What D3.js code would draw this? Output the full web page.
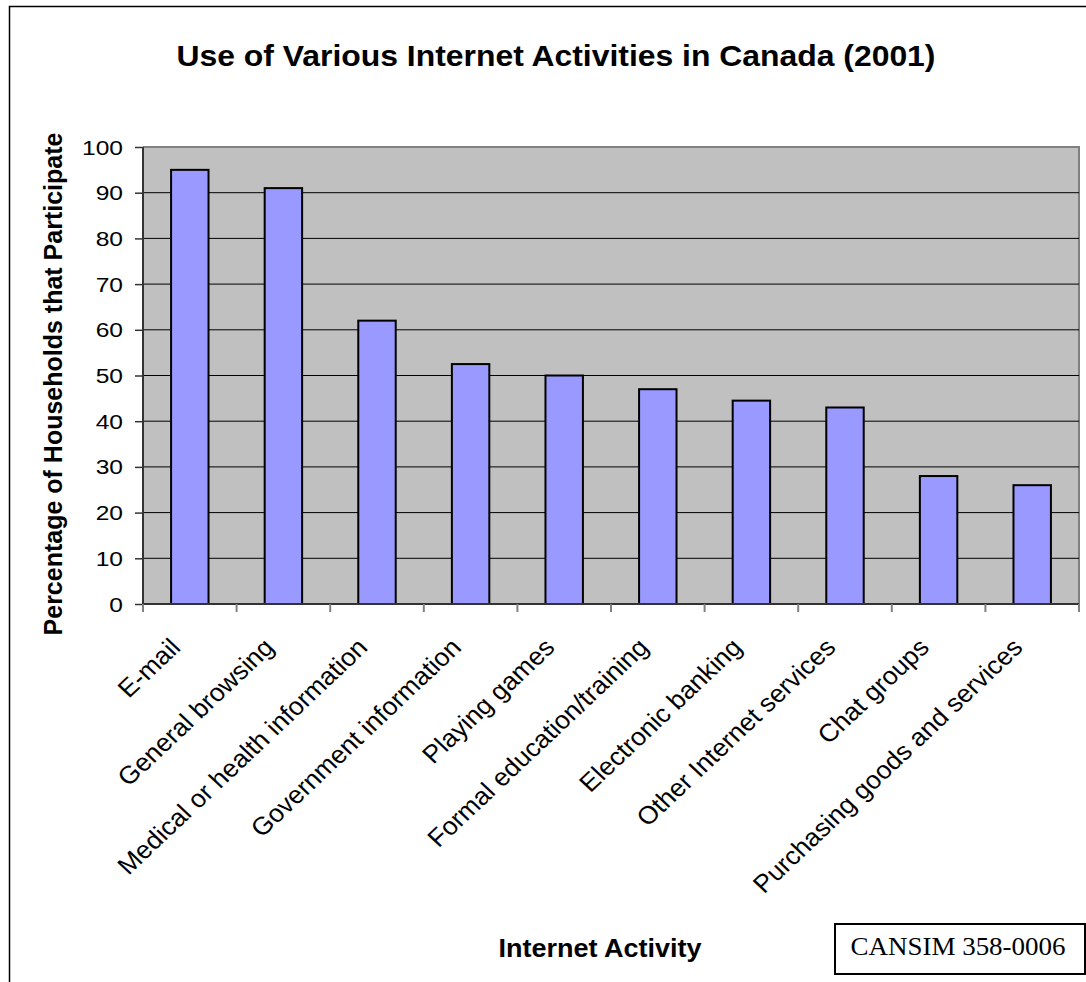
<!DOCTYPE html>
<html><head><meta charset="utf-8">
<script src="https://cdn.jsdelivr.net/npm/d3@7"></script>
<style>body{margin:0;background:#fff}svg{display:block}</style>
</head><body>
<script>
const categories = ["E-mail","General browsing","Medical or health information","Government information","Playing games","Formal education/training","Electronic banking","Other Internet services","Chat groups","Purchasing goods and services"];
const values = [95, 91, 62, 52.5, 50, 47, 44.5, 43, 28, 26];
const yTicks = [0,10,20,30,40,50,60,70,80,90,100];

const W = 1086, H = 982;
const svg = d3.select("body").append("svg").attr("width", W).attr("height", H);
const font = "'Liberation Sans', Arial, sans-serif";

// outer frame
svg.append("path").attr("d", `M9.5,${H} L9.5,6.5 L${W},6.5`).attr("fill","none").attr("stroke","#000").attr("stroke-width",1.5);

const L = 143, R = 1079, T = 147, B = 604;
const x = d3.scaleBand().domain(categories).range([L, R]).paddingInner(0.6).paddingOuter(0.3);
const xb = d3.scaleBand().domain(categories).range([L, R]);
const y = d3.scaleLinear().domain([0, 100]).range([B, T]);

svg.append("rect").attr("x", L).attr("y", T).attr("width", R - L).attr("height", B - T).attr("fill", "#c0c0c0");
svg.append("path").attr("d", `M${L},${T} L${R},${T} L${R},${B}`).attr("fill","none").attr("stroke","#808080").attr("stroke-width",2);

// gridlines
svg.append("g").selectAll("line").data(yTicks.filter(d => d > 0 && d < 100)).join("line")
  .attr("x1", L).attr("x2", R).attr("y1", d => y(d)).attr("y2", d => y(d))
  .attr("stroke", "#000").attr("stroke-width", 1);

// bars
svg.append("g").selectAll("rect").data(values).join("rect")
  .attr("x", (d, i) => x(categories[i]))
  .attr("y", d => y(d))
  .attr("width", x.bandwidth())
  .attr("height", d => B - y(d))
  .attr("fill", "#9999ff").attr("stroke", "#000").attr("stroke-width", 2);

// y axis
const ya = d3.axisLeft(y).tickValues(yTicks).tickSize(8).tickFormat(() => "");
const gy = svg.append("g").attr("transform", `translate(${L},0)`).call(ya);
gy.select(".domain").attr("stroke", "#333").attr("stroke-width", 2).attr("d", `M0,${T} V${B}`);
gy.selectAll(".tick line").attr("stroke", "#333").attr("stroke-width", 1.5);
svg.append("g").selectAll("text").data(yTicks).join("text")
  .attr("transform", d => `translate(${L - 20},${y(d) + 7.5}) scale(1.17,1)`)
  .attr("text-anchor", "end").attr("font-family", font).attr("font-size", 21).attr("fill", "#000")
  .text(d => d);

// x axis
const xa = d3.axisBottom(xb).tickSize(0).tickFormat("");
const gx = svg.append("g").attr("transform", `translate(0,${B})`).call(xa);
gx.select(".domain").attr("stroke", "#333").attr("stroke-width", 2).attr("d", `M${L},0 H${R}`);
const bounds = categories.map(c => xb(c)).concat([R]);
svg.append("g").selectAll("line").data(bounds).join("line")
  .attr("x1", d => d).attr("x2", d => d).attr("y1", B).attr("y2", B + 8)
  .attr("stroke", "#808080").attr("stroke-width", 2);

// category labels
svg.append("g").selectAll("text").data(categories).join("text")
  .attr("transform", d => `translate(${xb(d) + xb.bandwidth()/2 - 8},${B + 45}) scale(1.06,1) rotate(-45)`)
  .attr("text-anchor", "end")
  .attr("font-family", font).attr("font-size", 25).attr("fill", "#000")
  .text(d => d);

// titles
svg.append("text").attr("transform", `translate(556,66) scale(1.1,1)`).attr("text-anchor", "middle")
  .attr("font-family", font).attr("font-size", 29).attr("font-weight", "bold").text("Use of Various Internet Activities in Canada (2001)");
svg.append("text").attr("transform", `translate(62,384) rotate(-90)`).attr("text-anchor", "middle")
  .attr("font-family", font).attr("font-size", 25).attr("font-weight", "bold").text("Percentage of Households that Participate");
svg.append("text").attr("transform", `translate(600,957) scale(1.08,1)`).attr("text-anchor", "middle")
  .attr("font-family", font).attr("font-size", 25).attr("font-weight", "bold").text("Internet Activity");

// source box
svg.append("rect").attr("x", 835).attr("y", 924).attr("width", 250).attr("height", 50)
  .attr("fill", "#fff").attr("stroke", "#000").attr("stroke-width", 2);
svg.append("text").attr("transform", `translate(958,955) scale(1.08,1)`).attr("text-anchor", "middle")
  .attr("font-family", "'Liberation Serif', 'Times New Roman', serif").attr("font-size", 25).text("CANSIM 358-0006");
</script>
</body></html>
